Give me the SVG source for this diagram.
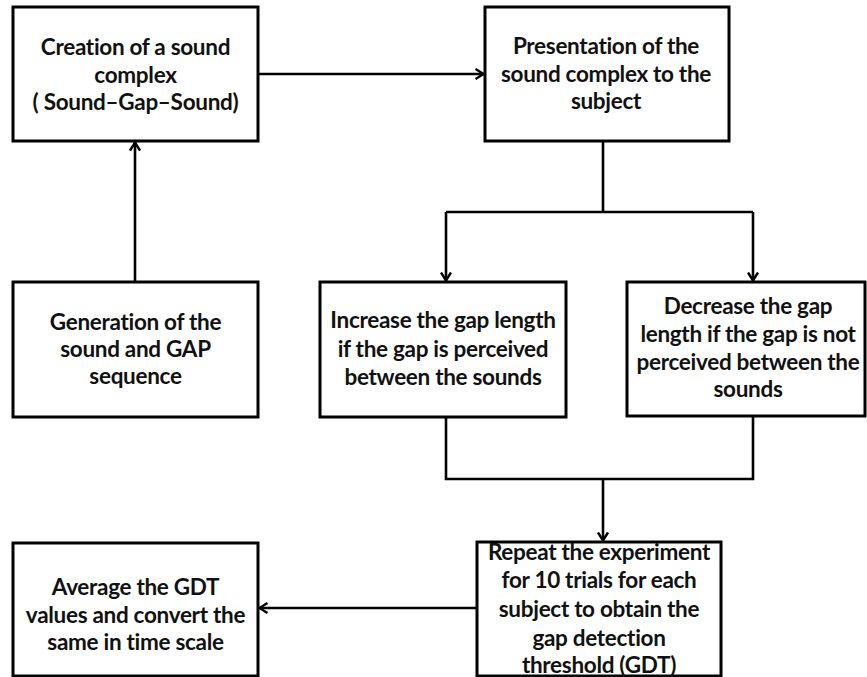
<svg xmlns="http://www.w3.org/2000/svg" width="867" height="677" viewBox="0 0 867 677">
<style>
.box{fill:#fff;stroke:#000;stroke-width:3}
.t{font-family:Lato,"Liberation Sans",sans-serif;font-weight:bold;font-size:22.5px;fill:#111;text-anchor:middle;letter-spacing:-0.3px}
.c{fill:none;stroke:#000;stroke-width:2.6}
</style>
<defs>
<marker id="ah" viewBox="0 0 10 12" refX="9.5" refY="6" markerWidth="10" markerHeight="12" markerUnits="userSpaceOnUse" orient="auto">
<path d="M1,1 L9,6 L1,11" fill="none" stroke="#000" stroke-width="2.4"/>
</marker>
</defs>
<rect width="867" height="677" fill="#fff"/>
<g id="connectors">
<line class="c" x1="258" y1="74" x2="484" y2="74" marker-end="url(#ah)"/>
<polyline class="c" points="603,141 603,212"/>
<polyline class="c" points="446,212 753,212"/>
<line class="c" x1="446" y1="212" x2="446" y2="281" marker-end="url(#ah)"/>
<line class="c" x1="753" y1="212" x2="753" y2="281" marker-end="url(#ah)"/>
<line class="c" x1="135" y1="282" x2="135" y2="142" marker-end="url(#ah)"/>
<polyline class="c" points="446,417 446,479 753,479 753,416"/>
<line class="c" x1="603" y1="479" x2="603" y2="541" marker-end="url(#ah)"/>
<line class="c" x1="477" y1="608" x2="259" y2="608" marker-end="url(#ah)"/>
</g>
<g id="creation">
<rect class="box" x="13" y="7" width="245" height="134"/>
<text class="t" x="135.5" y="55">Creation of a sound</text>
<text class="t" x="135.5" y="83">complex</text>
<text class="t" x="135.5" y="110">( Sound–Gap–Sound)</text>
</g>
<g id="presentation">
<rect class="box" x="485" y="7" width="244" height="134"/>
<text class="t" x="606" y="54">Presentation of the</text>
<text class="t" x="606" y="82">sound complex to the</text>
<text class="t" x="606" y="109">subject</text>
</g>
<g id="generation">
<rect class="box" x="13" y="282" width="245" height="135"/>
<text class="t" x="135.5" y="330">Generation of the</text>
<text class="t" x="135.5" y="357">sound and GAP</text>
<text class="t" x="135.5" y="384">sequence</text>
</g>
<g id="increase">
<rect class="box" x="320" y="282" width="246" height="135"/>
<text class="t" x="443" y="328">Increase the gap length</text>
<text class="t" x="443" y="357">if the gap is perceived</text>
<text class="t" x="443" y="385">between the sounds</text>
</g>
<g id="decrease">
<rect class="box" x="627" y="282" width="238" height="134"/>
<text class="t" x="748" y="314">Decrease the gap</text>
<text class="t" x="748" y="342">length if the gap is not</text>
<text class="t" x="748" y="370">perceived between the</text>
<text class="t" x="748" y="397">sounds</text>
</g>
<g id="repeat">
<rect class="box" x="477" y="542" width="244" height="134"/>
<text class="t" x="599" y="560">Repeat the experiment</text>
<text class="t" x="599" y="588">for 10 trials for each</text>
<text class="t" x="599" y="617">subject to obtain the</text>
<text class="t" x="599" y="646">gap detection</text>
<text class="t" x="599" y="673">threshold (GDT)</text>
</g>
<g id="average">
<rect class="box" x="13" y="543" width="245" height="133"/>
<text class="t" x="135.5" y="595">Average the GDT</text>
<text class="t" x="135.5" y="623">values and convert the</text>
<text class="t" x="135.5" y="650">same in time scale</text>
</g>
</svg>
